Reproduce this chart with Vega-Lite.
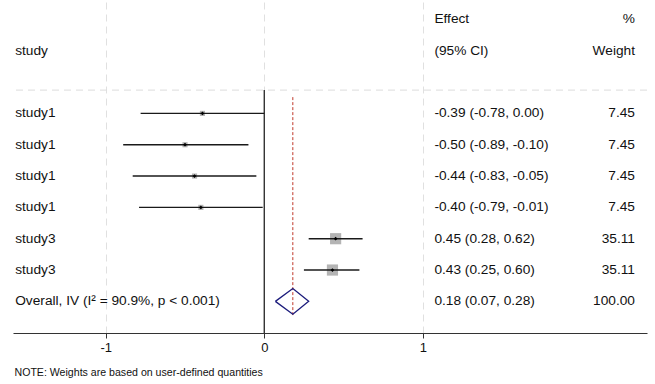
{
  "$schema": "https://vega.github.io/schema/vega-lite/v6.json",
  "width": 634,
  "height": 333,
  "autosize": {"type": "none"},
  "padding": {"left": 13, "top": 0, "right": 8, "bottom": 51},
  "background": "white",
  "config": {
    "view": {"stroke": null},
    "font": "Liberation Sans",
    "text": {"font": "Liberation Sans", "fontSize": 13.7, "color": "#111"},
    "axisY": {"disable": true}
  },
  "title": {
    "text": "NOTE: Weights are based on user-defined quantities",
    "orient": "bottom",
    "anchor": "start",
    "fontSize": 10.6,
    "fontWeight": "normal",
    "font": "Liberation Sans",
    "color": "#111",
    "offset": 14,
    "dx": 2
  },
  "datasets": {
    "studies": [
      {"row": 0, "study": "study1", "es": -0.39, "lo": -0.78, "hi": 0.00, "weight": 7.45},
      {"row": 1, "study": "study1", "es": -0.50, "lo": -0.89, "hi": -0.10, "weight": 7.45},
      {"row": 2, "study": "study1", "es": -0.44, "lo": -0.83, "hi": -0.05, "weight": 7.45},
      {"row": 3, "study": "study1", "es": -0.40, "lo": -0.79, "hi": -0.01, "weight": 7.45},
      {"row": 4, "study": "study3", "es": 0.45, "lo": 0.28, "hi": 0.62, "weight": 35.11},
      {"row": 5, "study": "study3", "es": 0.43, "lo": 0.25, "hi": 0.60, "weight": 35.11}
    ],
    "overall": [
      {"row": 6, "es": 0.18, "lo": 0.07, "hi": 0.28, "weight": 100.0}
    ],
    "diamond": [
      {"ord": 1, "x": 0.07, "y": 6},
      {"ord": 2, "x": 0.18, "y": 5.59},
      {"ord": 3, "x": 0.28, "y": 6},
      {"ord": 4, "x": 0.18, "y": 6.41},
      {"ord": 5, "x": 0.07, "y": 6}
    ],
    "table": [
      {"row": -3, "study": "", "ci": "Effect", "wt": "%"},
      {"row": -2, "study": "study", "ci": "(95% CI)", "wt": "Weight"},
      {"row": 0, "study": "study1", "ci": "-0.39 (-0.78, 0.00)", "wt": "7.45"},
      {"row": 1, "study": "study1", "ci": "-0.50 (-0.89, -0.10)", "wt": "7.45"},
      {"row": 2, "study": "study1", "ci": "-0.44 (-0.83, -0.05)", "wt": "7.45"},
      {"row": 3, "study": "study1", "ci": "-0.40 (-0.79, -0.01)", "wt": "7.45"},
      {"row": 4, "study": "study3", "ci": "0.45 (0.28, 0.62)", "wt": "35.11"},
      {"row": 5, "study": "study3", "ci": "0.43 (0.25, 0.60)", "wt": "35.11"},
      {"row": 6, "study": "Overall, IV (I² = 90.9%, p < 0.001)", "ci": "0.18 (0.07, 0.28)", "wt": "100.00"}
    ]
  },
  "layer": [
    {
      "data": {"values": [{}]},
      "mark": {"type": "rule", "color": "#333", "strokeWidth": 1.4},
      "encoding": {
        "x": {
          "datum": 0,
          "type": "quantitative",
          "scale": {"domain": [-1.585, 2.414], "nice": false, "zero": false},
          "axis": {
            "values": [-1, 0, 1],
            "title": null,
            "labelExpr": "'' + datum.value",
            "labelFontSize": 13,
            "labelFont": "Liberation Sans",
            "labelColor": "#111",
            "labelPadding": 3,
            "tickSize": 5,
            "tickColor": "#333",
            "domainColor": "#333",
            "domainWidth": 1.2,
            "grid": true,
            "gridColor": "#e0e0e0",
            "gridDash": [7, 5],
            "gridWidth": 1
          }
        },
        "y": {
          "datum": -0.744,
          "type": "quantitative",
          "scale": {"domain": [-3.62, 7.01], "nice": false, "zero": false, "reverse": true},
          "axis": null
        },
        "y2": {"datum": 7.01}
      }
    },
    {
      "data": {"values": [{}]},
      "mark": {"type": "rule", "color": "#dcdcdc", "strokeDash": [7, 5], "strokeWidth": 1},
      "encoding": {
        "y": {"datum": -0.744, "type": "quantitative", "axis": null}
      }
    },
    {
      "data": {"name": "overall"},
      "mark": {"type": "rule", "color": "#c0392b", "strokeDash": [3, 2], "strokeWidth": 1},
      "encoding": {
        "x": {"field": "es", "type": "quantitative"},
        "y": {"datum": -0.52, "type": "quantitative", "axis": null},
        "y2": {"datum": 6.44}
      }
    },
    {
      "data": {"name": "studies"},
      "mark": {"type": "square", "filled": true, "color": "#b4b4b4", "opacity": 1},
      "encoding": {
        "x": {"field": "es", "type": "quantitative"},
        "y": {"field": "row", "type": "quantitative", "axis": null},
        "size": {"field": "weight", "type": "quantitative", "scale": {"domain": [0, 35.11], "range": [0, 125]}, "legend": null}
      }
    },
    {
      "data": {"name": "studies"},
      "mark": {"type": "rule", "color": "#1a1a1a", "strokeWidth": 1.4},
      "encoding": {
        "x": {"field": "lo", "type": "quantitative"},
        "x2": {"field": "hi"},
        "y": {"field": "row", "type": "quantitative", "axis": null}
      }
    },
    {
      "data": {"name": "studies"},
      "mark": {"type": "point", "shape": "diamond", "filled": true, "color": "#000", "size": 14, "opacity": 1},
      "encoding": {
        "x": {"field": "es", "type": "quantitative"},
        "y": {"field": "row", "type": "quantitative", "axis": null}
      }
    },
    {
      "data": {"name": "diamond"},
      "mark": {"type": "line", "color": "#1c1c7c", "strokeWidth": 1.3},
      "encoding": {
        "x": {"field": "x", "type": "quantitative"},
        "y": {"field": "y", "type": "quantitative", "axis": null},
        "order": {"field": "ord", "type": "quantitative"}
      }
    },
    {
      "data": {"name": "table"},
      "mark": {"type": "text", "align": "left", "baseline": "middle"},
      "encoding": {
        "x": {"datum": -1.571, "type": "quantitative"},
        "y": {"field": "row", "type": "quantitative", "axis": null},
        "text": {"field": "study"}
      }
    },
    {
      "data": {"name": "table"},
      "mark": {"type": "text", "align": "left", "baseline": "middle"},
      "encoding": {
        "x": {"datum": 1.073, "type": "quantitative"},
        "y": {"field": "row", "type": "quantitative", "axis": null},
        "text": {"field": "ci"}
      }
    },
    {
      "data": {"name": "table"},
      "mark": {"type": "text", "align": "right", "baseline": "middle"},
      "encoding": {
        "x": {"datum": 2.338, "type": "quantitative"},
        "y": {"field": "row", "type": "quantitative", "axis": null},
        "text": {"field": "wt"}
      }
    }
  ]
}
